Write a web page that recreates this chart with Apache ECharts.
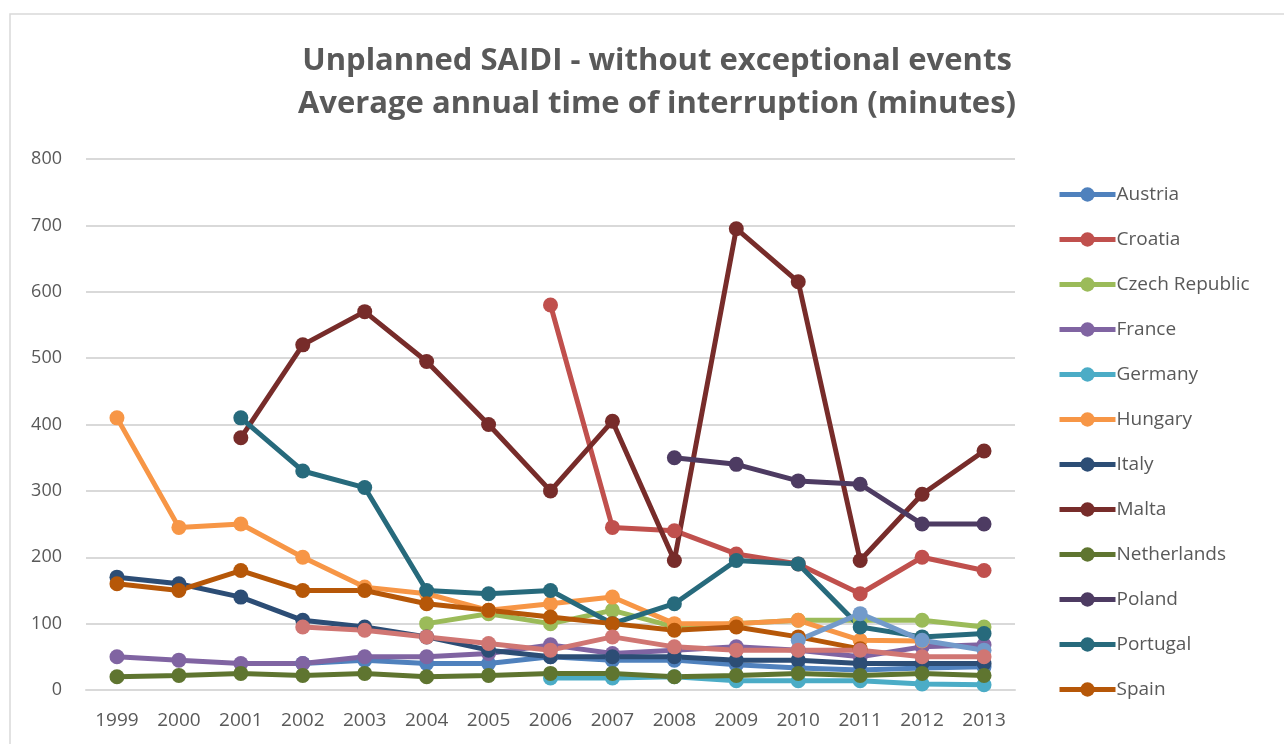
<!DOCTYPE html>
<html>
<head>
<meta charset="utf-8">
<script src="https://cdn.jsdelivr.net/npm/echarts@6/dist/echarts.min.js"></script>
<style>
  html, body { margin: 0; padding: 0; background: #fff; }
  #chart { width: 1284px; height: 744px; }
</style>
</head>
<body>
<div id="chart"></div>
<script>
var years = ['1999', '2000', '2001', '2002', '2003', '2004', '2005', '2006', '2007', '2008', '2009', '2010', '2011', '2012', '2013'];

// values per country, null = no data
var austria = [null, null, null, 40, 45, 40, 40, 50, 45, 45, 38, 33, 30, 33, 35];
var croatia = [null, null, null, null, null, null, null, 580, 245, 240, 205, 190, 145, 200, 180];
var czech = [null, null, null, null, null, 100, 115, 100, 120, 95, 100, 105, 105, 105, 95];
var france = [50, 45, 40, 40, 50, 50, 55, 68, 55, 60, 65, 60, 50, 65, 68];
var germany = [null, null, null, null, null, null, null, 18, 18, 20, 14, 14, 14, 9, 8];
var hungary = [410, 245, 250, 200, 155, 145, 120, 130, 140, 100, 100, 105, 75, 74, null];
var italy = [170, 160, 140, 105, 95, 80, 60, 50, 50, 50, 45, 45, 40, 40, 40];
var malta = [null, null, 380, 520, 570, 495, 400, 300, 405, 195, 695, 615, 195, 295, 360];
var netherlands = [20, 22, 25, 22, 25, 20, 22, 25, 25, 20, 22, 25, 22, 25, 22];
var poland = [null, null, null, null, null, null, null, null, null, 350, 340, 315, 310, 250, 250];
var portugal = [null, null, 410, 330, 305, 150, 145, 150, 100, 130, 195, 190, 95, 80, 85];
var spain = [160, 150, 180, 150, 150, 130, 120, 110, 100, 90, 95, 80, 62, null, null];
// two more series drawn in the chart but cut off from its legend
var series13 = [null, null, null, null, null, null, null, null, null, null, null, 75, 115, 75, 60];
var series14 = [null, null, null, 95, 90, 80, 70, 60, 80, 65, 60, 60, 60, 50, 50];

var yTicks = [0, 800, 100];

var names = ['Austria', 'Croatia', 'Czech Republic', 'France', 'Germany', 'Hungary', 'Italy', 'Malta', 'Netherlands', 'Poland', 'Portugal', 'Spain', 'Series 13', 'Series 14'];
var values = [austria, croatia, czech, france, germany, hungary, italy, malta, netherlands, poland, portugal, spain, series13, series14];
var colors = ['#4f81bd', '#c0504d', '#9bbb59', '#8064a2', '#4bacc6', '#f79646', '#2c4d75', '#772c2a', '#5f7530', '#4d3b62', '#276a7c', '#b65708', '#729aca', '#d07673'];

var myChart = echarts.init(document.getElementById('chart'));

var series = names.map(function (n, i) {
    return {
        name: n,
        type: 'line',
        data: values[i],
        symbol: 'circle',
        symbolSize: 15,
        lineStyle: { width: 5, color: colors[i] },
        itemStyle: { color: colors[i] },
        emphasis: { disabled: true }
    };
});

var option = {
    backgroundColor: '#fff',
    animation: false,
    title: {
        text: 'Unplanned SAIDI - without exceptional events\nAverage annual time of interruption (minutes)',
        left: 652,
        top: 35,
        textAlign: 'center',
        textStyle: {
            fontFamily: 'Open Sans',
            fontWeight: 'bold',
            fontSize: 31,
            lineHeight: 43,
            color: '#595959'
        }
    },
    legend: {
        orient: 'vertical',
        left: 1052,
        top: 180,
        itemWidth: 56,
        itemHeight: 18,
        itemGap: 26,
        data: names.slice(0, 12),
        lineStyle: { width: 5 },
        textStyle: { fontFamily: 'Open Sans', fontSize: 19, color: '#595959', padding: [0, 0, 0, -4] }
    },
    grid: {
        left: 86,
        right: 269,
        top: 159,
        bottom: 54
    },
    xAxis: {
        type: 'category',
        data: years,
        boundaryGap: true,
        axisLine: { lineStyle: { color: '#d9d9d9', width: 2 } },
        axisTick: { show: false },
        axisLabel: { fontFamily: 'Open Sans', fontSize: 19, color: '#595959', margin: 21 }
    },
    yAxis: {
        type: 'value',
        min: yTicks[0],
        max: yTicks[1],
        interval: yTicks[2],
        axisLine: { show: false },
        axisTick: { show: false },
        splitLine: { lineStyle: { color: '#d9d9d9', width: 2 } },
        axisLabel: { fontFamily: 'Open Sans', fontSize: 18, color: '#595959', margin: 24 }
    },
    graphic: [{
        type: 'rect',
        shape: { x: 10, y: 14, width: 1300, height: 760 },
        style: { fill: 'none', stroke: '#d9d9d9', lineWidth: 1.5 },
        silent: true
    }],
    series: series
};

myChart.setOption(option);
</script>
</body>
</html>
